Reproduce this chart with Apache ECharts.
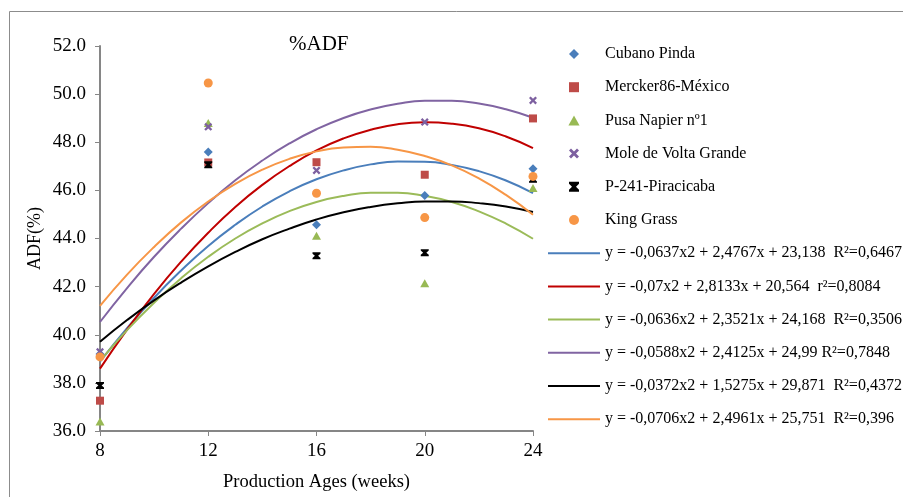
<!DOCTYPE html>
<html>
<head>
<meta charset="utf-8">
<script src="https://cdn.jsdelivr.net/npm/echarts@6/dist/echarts.min.js"></script>
<style>
  html, body { margin: 0; padding: 0; background: #fff; }
  #main { width: 903px; height: 497px; }
</style>
</head>
<body>
<div id="main"></div>
<script>
// measured ADF values per cultivar
const weeks = [8, 12, 16, 20, 24];
const cubanoPinda = [39.2, 47.6, 44.57, 45.79, 46.9];
const mercker = [37.26, 47.16, 47.17, 46.65, 48.99];
const pusaNapier = [36.4, 48.8, 44.11, 42.14, 46.1];
const moleVolta = [39.29, 48.64, 46.83, 48.84, 49.74];
const piracicaba = [37.89, 47.06, 43.28, 43.41, 46.46];
const kingGrass = [39.08, 50.46, 45.88, 44.87, 46.58];

// trend curves, one value per week
const fitWeeks = [8, 9, 10, 11, 12, 13, 14, 15, 16, 17, 18, 19, 20, 21, 22, 23, 24];
const fitCubano = [38.88, 40.27, 41.54, 42.67, 43.69, 44.57, 45.33, 45.96, 46.46, 46.83, 47.08, 47.2, 47.19, 47.06, 46.8, 46.41, 45.89];
const fitMercker = [38.59, 40.21, 41.7, 43.04, 44.24, 45.31, 46.23, 47.01, 47.66, 48.16, 48.52, 48.75, 48.83, 48.77, 48.58, 48.24, 47.76];
const fitPusa = [38.91, 40.19, 41.33, 42.35, 43.24, 44.0, 44.63, 45.14, 45.52, 45.77, 45.9, 45.9, 45.77, 45.52, 45.13, 44.62, 43.99];
const fitMole = [40.53, 41.94, 43.24, 44.41, 45.47, 46.42, 47.24, 47.95, 48.54, 49.01, 49.36, 49.6, 49.72, 49.72, 49.61, 49.37, 49.02];
const fitPiracicaba = [39.71, 40.61, 41.43, 42.17, 42.84, 43.44, 43.97, 44.41, 44.79, 45.09, 45.31, 45.46, 45.54, 45.54, 45.47, 45.33, 45.1];
const fitKing = [41.2, 42.5, 43.65, 44.67, 45.54, 46.27, 46.86, 47.31, 47.62, 47.78, 47.81, 47.69, 47.43, 47.04, 46.5, 45.81, 44.99];

const names = ['Cubano Pinda', 'Mercker86-México', 'Pusa Napier nº1', 'Mole de Volta Grande', 'P-241-Piracicaba', 'King Grass'];
const fitNames = [
  'y = -0,0637x2 + 2,4767x + 23,138  R²=0,6467',
  'y = -0,07x2 + 2,8133x + 20,564  r²=0,8084',
  'y = -0,0636x2 + 2,3521x + 24,168  R²=0,3506',
  'y = -0,0588x2 + 2,4125x + 24,99 R²=0,7848',
  'y = -0,0372x2 + 1,5275x + 29,871  R²=0,4372',
  'y = -0,0706x2 + 2,4961x + 25,751  R²=0,396'
];

const pointColors = ['#4a7ebb', '#be4b48', '#98b954', '#7d60a0', '#000000', '#f79646'];
const lineColors = ['#4a7ebb', '#c00000', '#9bbb59', '#8064a2', '#000000', '#f79646'];
const diamondMark = 'path://M5,0 L10,5 L5,10 L0,5 Z';
const squareMark = 'path://M0,0 L10,0 L10,10 L0,10 Z';
const triMark = 'path://M5,0 L10,9 L0,9 Z';
const xMark = 'path://M0,2 L2,0 L5,3 L8,0 L10,2 L7,5 L10,8 L8,10 L5,7 L2,10 L0,8 L3,5 Z';
const bowMark = 'path://M0,0 L10,0 L10,2 L7,5 L10,8 L10,10 L0,10 L0,8 L3,5 L0,2 Z';
const lineMark = 'path://M0,0 L52,0 L52,2 L0,2 Z';
const symbols = [diamondMark, squareMark, triMark, xMark, bowMark, 'circle'];
const sizes = [9, 8, [9, 8], 8, [8, 7], 9];

const pointSets = [cubanoPinda, mercker, pusaNapier, moleVolta, piracicaba, kingGrass];
const fitSets = [fitCubano, fitMercker, fitPusa, fitMole, fitPiracicaba, fitKing];

const series = [];
fitSets.forEach((vals, i) => {
  series.push({
    name: fitNames[i],
    type: 'line',
    smooth: true,
    symbol: 'none',
    showSymbol: false,
    z: 2,
    lineStyle: { color: lineColors[i], width: 2 },
    itemStyle: { color: lineColors[i] },
    data: fitWeeks.map((w, j) => [w, vals[j]])
  });
});
pointSets.forEach((vals, i) => {
  series.push({
    name: names[i],
    type: 'scatter',
    symbol: symbols[i],
    symbolSize: sizes[i],
    z: 3,
    itemStyle: { color: pointColors[i], opacity: 1 },
    data: weeks.map((w, j) => [w, vals[j]])
  });
});

const legendData = names.map(n => ({ name: n }))
  .concat(fitNames.map(n => ({ name: n, icon: lineMark })));

const chart = echarts.init(document.getElementById('main'));
chart.setOption({
  animation: false,
  textStyle: { fontFamily: 'Liberation Serif' },
  title: {
    text: '%ADF',
    left: 284,
    top: 29,
    textStyle: { fontFamily: 'Liberation Serif', fontSize: 21, fontWeight: 'normal', color: '#000' }
  },
  graphic: [{
    type: 'rect',
    shape: { x: 9.5, y: 11.5, width: 1000, height: 1000 },
    style: { fill: 'none', stroke: '#8c8c8c', lineWidth: 1 },
    silent: true
  }],
  legend: {
    orient: 'vertical',
    left: 548,
    top: 46,
    padding: 0,
    itemWidth: 52,
    itemHeight: 10,
    itemGap: 17.2,
    data: legendData,
    textStyle: { fontFamily: 'Liberation Serif', fontSize: 16, color: '#000', lineHeight: 16 }
  },
  grid: { left: 100, right: 370, top: 46, bottom: 64 },
  xAxis: {
    type: 'value',
    min: 8,
    max: 24,
    interval: 4,
    name: 'Production Ages (weeks)',
    nameLocation: 'middle',
    nameGap: 42,
    nameTextStyle: { fontFamily: 'Liberation Serif', fontSize: 18.5, color: '#000' },
    axisLine: { lineStyle: { color: '#868686', width: 2 } },
    axisTick: { show: true, length: 5, lineStyle: { color: '#868686' } },
    axisLabel: { fontFamily: 'Liberation Serif', fontSize: 19, color: '#000', margin: 11 },
    splitLine: { show: false }
  },
  yAxis: {
    type: 'value',
    min: 36,
    max: 52,
    interval: 2,
    name: 'ADF(%)',
    nameLocation: 'middle',
    nameGap: 56,
    nameTextStyle: { fontFamily: 'Liberation Serif', fontSize: 18, color: '#000' },
    axisLine: { show: true, lineStyle: { color: '#868686', width: 2 } },
    axisTick: { show: true, length: 5, lineStyle: { color: '#868686' } },
    axisLabel: { fontFamily: 'Liberation Serif', fontSize: 19, color: '#000', margin: 14,
      formatter: v => v.toFixed(1) },
    splitLine: { show: false }
  },
  series: series
});
</script>
</body>
</html>
